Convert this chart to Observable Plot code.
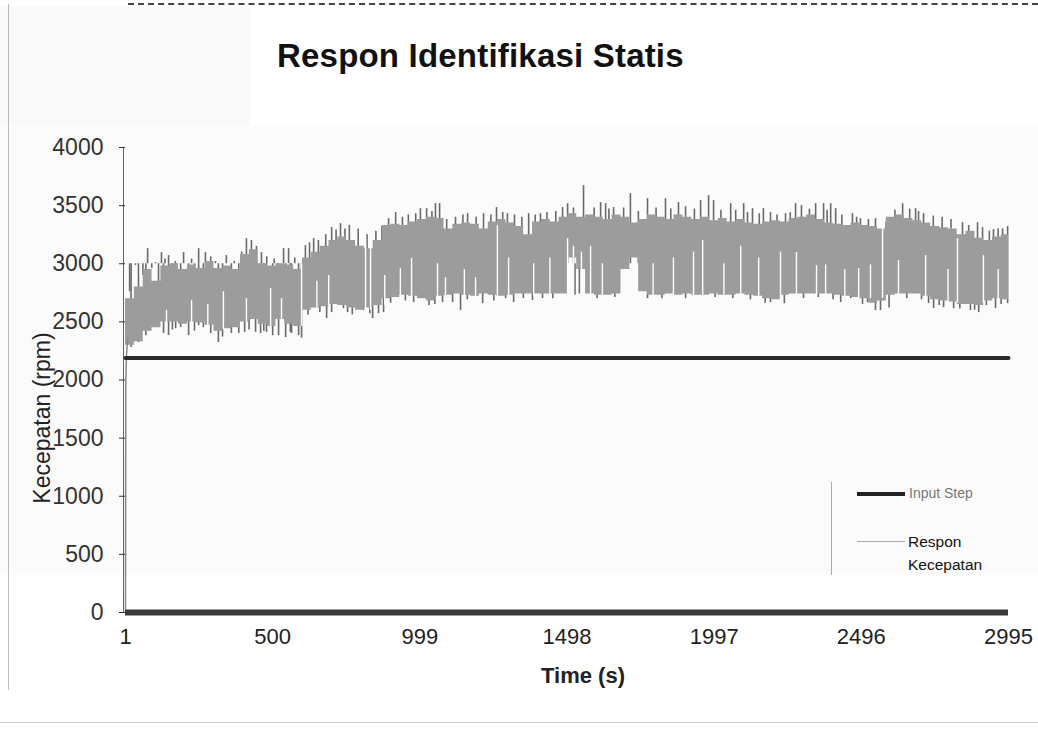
<!DOCTYPE html>
<html>
<head>
<meta charset="utf-8">
<script src="https://cdn.jsdelivr.net/npm/d3@7"></script>
<script src="https://cdn.jsdelivr.net/npm/@observablehq/plot@0.6"></script>
<style>
  body { margin: 0; background: #fff; }
  #wrap { position: relative; width: 1038px; height: 751px; background: #fff; font-family: "Liberation Sans", Arial, sans-serif; overflow: hidden; }
  #wrap svg { position: absolute; left: 0; top: 0; }
  .abs { position: absolute; white-space: nowrap; }
</style>
</head>
<body>
<div id="wrap">
  <div class="abs" style="left:0;top:125px;width:1038px;height:450px;background:#fbfbfb;"></div>
  <div class="abs" style="left:0;top:6px;width:250px;height:118px;background:#f9f9f9;"></div>
  <div class="abs" style="left:8px;top:4px;width:1px;height:686px;background:#bbb;"></div>
  <div class="abs" style="left:128px;top:3px;width:910px;height:2px;border-top:2px dashed #444;"></div>
  <div class="abs" style="left:0;top:722px;width:1038px;height:1px;background:#ccc;"></div>
  <div id="chart"></div>
  <div class="abs" id="title" style="left:277px;top:37px;font-size:33px;font-weight:bold;color:#111;letter-spacing:0.2px;">Respon Identifikasi Statis</div>
  <div class="abs" id="ylab" style="left:42px;top:418px;font-size:23px;color:#222;transform:translate(-50%,-50%) rotate(-90deg);">Kecepatan (rpm)</div>
  <div class="abs" id="xlab" style="left:583px;top:676px;font-size:22px;font-weight:bold;color:#222;transform:translate(-50%,-50%);">Time (s)</div>
  <div class="abs" style="left:831px;top:482px;width:1px;height:93px;background:#aaa;"></div>
  <div class="abs" style="left:857px;top:492px;width:48px;height:4px;background:#222;"></div>
  <div class="abs" style="left:909px;top:485px;font-size:14px;color:#777;">Input Step</div>
  <div class="abs" style="left:857px;top:541px;width:48px;height:1px;background:#aaa;"></div>
  <div class="abs" style="left:908px;top:530px;font-size:15.5px;color:#111;line-height:23px;">Respon<br>Kecepatan</div>
</div>
<script>
// ---- data ----
const xTicks = [1, 500, 999, 1498, 1997, 2496, 2995];
const yTicks = [0, 500, 1000, 1500, 2000, 2500, 3000, 3500, 4000];

// input step
const stepTime = [1, 2995];
const stepValue = [2190, 2190];

// start-up rise of the speed response
const startTime = [1, 2, 4, 8];
const startValue = [0, 1950, 2200, 2350];

// response band: bin start times (30 s bins), dense band top and bottom
const respTime = [1,31,61,91,121,151,181,211,241,271,301,331,361,391,421,451,481,511,541,571,
  601,631,661,691,721,751,781,811,841,871,901,931,961,991,1021,1051,1081,1111,1141,1171,
  1201,1231,1261,1291,1321,1351,1381,1411,1441,1471,1501,1531,1561,1591,1621,1651,1681,1711,1741,1771,
  1801,1831,1861,1891,1921,1951,1981,2011,2041,2071,2101,2131,2161,2191,2221,2251,2281,2311,2341,2371,
  2401,2431,2461,2491,2521,2551,2581,2611,2641,2671,2701,2731,2761,2791,2821,2851,2881,2911,2941,2971,2995];
const respHigh = [2700,2800,2950,2850,2980,3000,2950,2990,2960,3020,
  2960,2980,2950,3080,3120,3000,2980,3000,2990,2950,
  3050,3100,3150,3200,3230,3200,3150,3130,3200,3330,
  3340,3330,3360,3380,3400,3390,3300,3340,3350,3340,
  3300,3360,3380,3350,3320,3250,3360,3380,3360,3400,
  3430,3400,3420,3400,3380,3420,3400,3350,3380,3420,
  3400,3380,3420,3400,3380,3400,3370,3390,3360,3380,
  3350,3340,3360,3370,3360,3390,3400,3420,3380,3350,
  3340,3330,3350,3330,3320,3300,3400,3420,3390,3370,
  3350,3320,3310,3300,3250,3280,3220,3200,3230,3250,3250];
const respLow = [2300,2330,2420,2450,2500,2500,2480,2500,2490,2470,
  2420,2440,2450,2500,2520,2480,2460,2520,2480,2460,
  2600,2620,2630,2650,2640,2620,2600,2620,2640,2700,
  2710,2730,2720,2700,2680,2720,2730,2740,2730,2720,
  2740,2730,2720,2730,2740,2740,2740,2740,2740,2740,
  3050,2950,2740,2730,2730,2740,2950,3050,2760,2730,
  2730,2740,2730,2740,2730,2730,2740,2730,2730,2740,
  2730,2720,2700,2690,2730,2740,2740,2740,2740,2740,
  2730,2720,2710,2700,2660,2680,2730,2740,2740,2740,
  2720,2690,2680,2670,2650,2650,2640,2680,2700,2690,2690];

// single excursions (spikes) above and below the band
const spikeTime = [35,76,103,123,147,198,249,272,306,343,411,428,462,537,554,611,639,655,700,730,
  760,790,850,893,917,1001,1022,1052,1066,1161,1215,1259,1296,1368,1408,1483,1500,
  1554,1612,1629,1656,1713,1771,1832,1876,1951,1978,1995,2053,2097,2127,2164,2188,2239,
  2273,2293,2341,2368,2392,2409,2466,2493,2544,2636,2680,2707,2839,2890,2907,2944,2975,2992,
  45,113,147,171,188,215,249,265,316,360,405,442,459,479,520,544,564,588,598,683,
  740,754,808,839,859,876,978,1076,1110,1137,1212,1317,1381,1415,
  1525,1540,1771,2188,2235,2426,2460,2517,2544,2561,2724,2741,2775,2809,2866,2894,2951,2992];
const spikeValue = [2984,3130,3010,3096,3070,3096,3130,3096,3019,3070,3216,3200,3096,3130,3130,3156,3216,3200,3311,3345,
  3330,3300,3280,3388,3440,3474,3474,3517,3517,3431,3431,3483,3431,3431,3431,3483,3517,
  3672,3526,3517,3483,3603,3560,3560,3526,3543,3586,3543,3517,3517,3474,3474,3440,3431,
  3517,3500,3517,3517,3517,3474,3431,3388,3388,3517,3474,3431,3354,3354,3311,3294,3300,3320,
  2322,2451,2382,2442,2451,2382,2468,2451,2322,2400,2410,2410,2400,2410,2382,2365,2400,2382,2360,2528,
  2614,2580,2597,2528,2571,2580,2666,2666,2666,2597,2657,2666,2683,2700,
  2730,2740,2700,2666,2657,2666,2700,2666,2597,2597,2657,2614,2622,2614,2597,2580,2614,2657];

// shorter teeth along both edges of the band
const toothTime = [15,60,90,135,170,225,290,320,370,395,445,480,505,575,590,625,680,715,745,820,870,940,960,985,
  1040,1090,1120,1145,1190,1240,1280,1320,1345,1390,1430,1460,1520,1590,1640,1690,1740,1800,1850,1900,1930,
  2020,2070,2110,2150,2210,2255,2320,2380,2430,2480,2520,2580,2610,2660,2690,2740,2770,2800,2860,2930,2960,
  20,70,130,160,235,290,330,385,420,470,500,560,620,660,700,770,830,900,950,1030,1050,1160,1250,1290,1350,
  1450,1600,1660,1820,1900,2000,2060,2120,2170,2300,2350,2400,2500,2590,2650,2700,2760,2830,2880,2920,2970];
const toothValue = [2760,2900,2960,3040,3020,3040,3060,3000,3020,3100,3150,3060,3040,3050,3000,3180,3250,3290,3300,3250,3320,3400,3420,3430,
  3450,3380,3400,3420,3400,3420,3440,3420,3400,3420,3440,3450,3480,3480,3470,3480,3450,3480,3470,3490,3470,
  3460,3460,3440,3430,3420,3440,3470,3460,3420,3400,3380,3360,3460,3470,3450,3410,3400,3380,3330,3280,3300,
  2280,2380,2400,2430,2420,2400,2370,2400,2430,2420,2380,2410,2560,2580,2580,2560,2570,2660,2680,2640,2650,2690,2680,2700,2700,
  2700,2700,2710,2700,2700,2710,2700,2690,2660,2700,2710,2690,2650,2620,2700,2690,2640,2610,2600,2640,2650];

// short dips inside the band (white streaks)
const gapTime = [140,225,280,333,411,493,530,598,650,690,815,832,880,933,971,1059,1086,1150,1188,1262,1300,1385,1440,1500,
  1520,1547,1578,1618,1790,1859,1927,1958,2030,2087,2148,2222,2276,2344,2375,2440,2487,2527,2568,2622,2714,2790,2822,2910,2960];
const gapBottom = [2420,2480,2430,2430,2500,2460,2450,2460,2620,2640,2600,2600,2640,2700,2700,2700,2700,2720,2720,2700,2720,2720,2720,2720,
  2720,2720,2720,2720,2720,2720,2720,2720,2720,2720,2720,2720,2720,2720,2720,2710,2700,2700,2700,2720,2700,2670,2660,2660,2680];
const gapTop = [2600,2683,2650,2760,2700,2786,2700,3000,2850,2900,3216,3216,2900,2958,3044,3000,2880,2950,2880,3328,3050,3000,3050,3216,
  3150,3100,3150,3000,3000,3050,3100,3200,3000,3150,3050,3100,3096,2984,2990,2950,2958,2990,3345,3027,3070,2950,3216,3070,2950];

// ---- build tables ----
const band = respTime.map((t, i) => ({ t, lo: respLow[i], hi: respHigh[i] }));
const spikes = spikeTime.map((t, i) => ({ t, v: spikeValue[i] }))
  .concat(toothTime.map((t, i) => ({ t, v: toothValue[i] })));
const gaps = gapTime.map((t, i) => ({ t, b: gapBottom[i], top: gapTop[i] }));
const step = stepTime.map((t, i) => ({ t, v: stepValue[i] }));
const start = startTime.map((t, i) => ({ t, v: startValue[i] }));
const bandMid = 3000;

const chart = Plot.plot({
  width: 1038,
  height: 751,
  marginLeft: 125,
  marginRight: 30,
  marginTop: 147,
  marginBottom: 139,
  x: { domain: [xTicks[0], xTicks[xTicks.length - 1]] },
  y: { domain: [yTicks[0], yTicks[yTicks.length - 1]] },
  style: { background: "transparent", fontFamily: "'Liberation Sans', Arial, sans-serif" },
  marks: [
    Plot.ruleX([xTicks[0]], { y1: yTicks[0], y2: yTicks[yTicks.length - 1], stroke: "#666", strokeWidth: 1, dx: -2 }),
    Plot.axisY({ ticks: yTicks, tickSize: 6, tickPadding: 16, tickFormat: d => String(d), fontSize: 23, color: "#333", label: null }),
    Plot.axisX({ ticks: xTicks, tickSize: 0, tickPadding: 16, tickFormat: d => String(d), fontSize: 22, color: "#222", label: null }),
    Plot.ruleX(spikes, { x: "t", y1: "v", y2: bandMid, stroke: "#6a6a6a", strokeWidth: 1.6 }),
    Plot.areaY(band, { x: "t", y1: "lo", y2: "hi", curve: "step-after", fill: "#9c9c9c" }),
    Plot.ruleX(gaps, { x: "t", y1: "b", y2: "top", stroke: "#fdfdfd", strokeWidth: 1.4 }),
    Plot.line(start, { x: "t", y: "v", stroke: "#888", strokeWidth: 1.5 }),
    Plot.line(step, { x: "t", y: "v", stroke: "#2a2a2a", strokeWidth: 4 }),
    Plot.ruleY([yTicks[0]], { stroke: "#3a3a3a", strokeWidth: 6 })
  ]
});
document.getElementById("chart").appendChild(chart);
</script>
</body>
</html>
